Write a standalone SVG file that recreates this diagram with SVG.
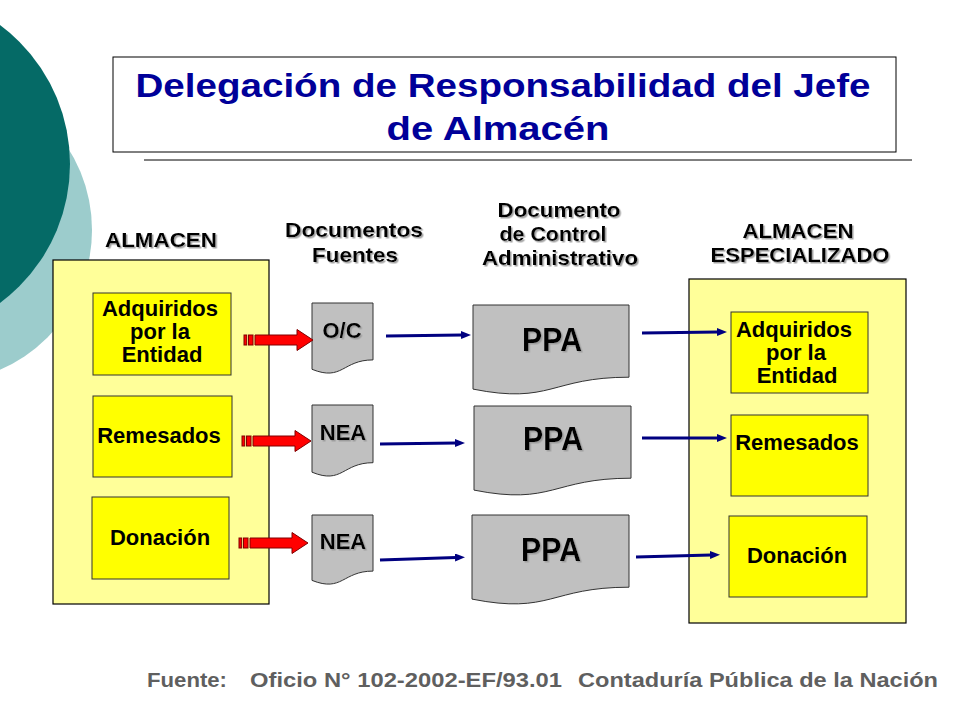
<svg xmlns="http://www.w3.org/2000/svg" width="960" height="720" viewBox="0 0 960 720">
<defs>
<style>
.box{fill:#FFFF99;stroke:#000;stroke-width:1.2}
.inner{fill:#FFFF00;stroke:#333;stroke-width:1}
.doc{fill:#C0C0C0;stroke:#333;stroke-width:1}
.t{font-family:"Liberation Sans",Arial,sans-serif;font-weight:bold;fill:#000;text-anchor:middle}
.hd{font-size:21px}
.bx{font-size:22px}
.dt{font-size:22px}
.ppa{font-size:33px}
.title{font-family:"Liberation Sans",Arial,sans-serif;font-weight:bold;font-size:33px;fill:#000099;text-anchor:middle}
.foot{font-family:"Liberation Sans",Arial,sans-serif;font-weight:bold;font-size:21px;fill:#5f5f5f}
.blue{stroke:#000080;stroke-width:3;fill:none;marker-end:url(#bh)}
.red{fill:#FF0000;stroke:#800000;stroke-width:1}
</style>
<filter id="sh" x="-10%" y="-20%" width="130%" height="150%">
<feDropShadow dx="1.5" dy="1.5" stdDeviation="0.6" flood-color="#999" flood-opacity="0.9"/>
</filter>
<marker id="bh" markerUnits="userSpaceOnUse" markerWidth="10" markerHeight="8" viewBox="0 0 10 8" refX="1" refY="4" orient="auto">
<path d="M0,0 L10,4 L0,8 z" fill="#000080"/>
</marker>
<g id="ra">
<rect class="red" x="0" y="-5" width="2.7" height="10"/>
<rect class="red" x="4.5" y="-5" width="4.5" height="10"/>
<path class="red" d="M11,-5 H53 V-10.5 L69,0 L53,10.5 V5 H11 Z"/>
</g>
</defs>
<rect width="960" height="720" fill="#fff"/>

<g id="decor">
<circle cx="-60" cy="230" r="152" fill="#9CCCCC"/>
<circle cx="-103" cy="164" r="173" fill="#056A66"/>
</g>

<g id="title">
<rect x="113" y="57" width="783" height="95" fill="#fff" stroke="#000" stroke-width="1"/>
<text class="title" x="503" y="97" textLength="735" lengthAdjust="spacingAndGlyphs">Delegación de Responsabilidad del Jefe</text>
<text class="title" x="498" y="140" textLength="223" lengthAdjust="spacingAndGlyphs">de Almacén</text>
<line x1="144" y1="160" x2="912" y2="160" stroke="#000" stroke-width="1"/>
</g>

<g id="headers" filter="url(#sh)">
<text class="t hd" x="161" y="247" textLength="112" lengthAdjust="spacingAndGlyphs">ALMACEN</text>
<text class="t hd" x="354" y="237" textLength="138" lengthAdjust="spacingAndGlyphs">Documentos</text>
<text class="t hd" x="355" y="262" textLength="86" lengthAdjust="spacingAndGlyphs">Fuentes</text>
<text class="t hd" x="559" y="217" textLength="123" lengthAdjust="spacingAndGlyphs">Documento</text>
<text class="t hd" x="553" y="241" textLength="107" lengthAdjust="spacingAndGlyphs">de Control</text>
<text class="t hd" x="560" y="265" textLength="156" lengthAdjust="spacingAndGlyphs">Administrativo</text>
<text class="t hd" x="798" y="238" textLength="111" lengthAdjust="spacingAndGlyphs">ALMACEN</text>
<text class="t hd" x="800" y="262" textLength="179" lengthAdjust="spacingAndGlyphs">ESPECIALIZADO</text>
</g>

<g id="almacen">
<rect class="box" x="53" y="260" width="216" height="344"/>
</g>
<g id="l-adq">
<rect class="inner" x="93" y="293" width="138" height="82"/>
<text class="t bx" x="160" y="316">Adquiridos</text>
<text class="t bx" x="160" y="339">por la</text>
<text class="t bx" x="162" y="362">Entidad</text>
</g>
<g id="l-rem">
<rect class="inner" x="93" y="396" width="139" height="81"/>
<text class="t bx" x="159" y="443">Remesados</text>
</g>
<g id="l-don">
<rect class="inner" x="92" y="497" width="137" height="82"/>
<text class="t bx" x="160" y="545">Donación</text>
</g>

<g id="doc-oc">
<path class="doc" d="M312,303 H373 V359.9 C342.5,359.9 342.5,381.6 312,369.3 Z"/>
<text class="t dt" x="342" y="338" filter="url(#sh)">O/C</text>
</g>
<g id="doc-nea1">
<path class="doc" d="M312,405 H373 V462.7 C342.5,462.7 342.5,484.7 312,472.2 Z"/>
<text class="t dt" x="343" y="440" filter="url(#sh)">NEA</text>
</g>
<g id="doc-nea2">
<path class="doc" d="M312,515 H373 V571.1 C342.5,571.1 342.5,592.5 312,580.4 Z"/>
<text class="t dt" x="343" y="549" filter="url(#sh)">NEA</text>
</g>

<g id="ppa1">
<path class="doc" d="M473,305 H629 V377.2 C551,377.2 551,404.7 473,389.1 Z"/>
<text class="t ppa" x="552" y="351" textLength="60" lengthAdjust="spacingAndGlyphs" filter="url(#sh)">PPA</text>
</g>
<g id="ppa2">
<path class="doc" d="M474,406 H631 V478.2 C552.5,478.2 552.5,505.7 474,490.1 Z"/>
<text class="t ppa" x="553" y="450" textLength="60" lengthAdjust="spacingAndGlyphs" filter="url(#sh)">PPA</text>
</g>
<g id="ppa3">
<path class="doc" d="M472,515 H629 V587.2 C550.5,587.2 550.5,614.7 472,599.1 Z"/>
<text class="t ppa" x="551" y="561" textLength="60" lengthAdjust="spacingAndGlyphs" filter="url(#sh)">PPA</text>
</g>

<g id="almacen-esp">
<rect class="box" x="689" y="279" width="217" height="344"/>
</g>
<g id="r-adq">
<rect class="inner" x="731" y="312" width="137" height="81"/>
<text class="t bx" x="794" y="337">Adquiridos</text>
<text class="t bx" x="796" y="360">por la</text>
<text class="t bx" x="797" y="383">Entidad</text>
</g>
<g id="r-rem">
<rect class="inner" x="731" y="415" width="137" height="81"/>
<text class="t bx" x="797" y="450">Remesados</text>
</g>
<g id="r-don">
<rect class="inner" x="729" y="516" width="138" height="81"/>
<text class="t bx" x="797" y="563">Donación</text>
</g>

<g id="connectors">
<use href="#ra" x="244" y="340"/>
<use href="#ra" x="242" y="441"/>
<use href="#ra" x="239" y="543"/>
<line class="blue" x1="386" y1="336" x2="462" y2="335"/>
<line class="blue" x1="380" y1="444" x2="456" y2="443"/>
<line class="blue" x1="380" y1="560" x2="456" y2="557.5"/>
<line class="blue" x1="642" y1="333" x2="718" y2="332"/>
<line class="blue" x1="642" y1="438" x2="718" y2="438"/>
<line class="blue" x1="636" y1="557" x2="711" y2="555"/>
</g>

<g id="footer">
<text class="foot" x="147" y="687" textLength="80" lengthAdjust="spacingAndGlyphs">Fuente:</text>
<text class="foot" x="250" y="687" textLength="312" lengthAdjust="spacingAndGlyphs">Oficio N° 102-2002-EF/93.01</text>
<text class="foot" x="578" y="687" textLength="360" lengthAdjust="spacingAndGlyphs">Contaduría Pública de la Nación</text>
</g>
</svg>
